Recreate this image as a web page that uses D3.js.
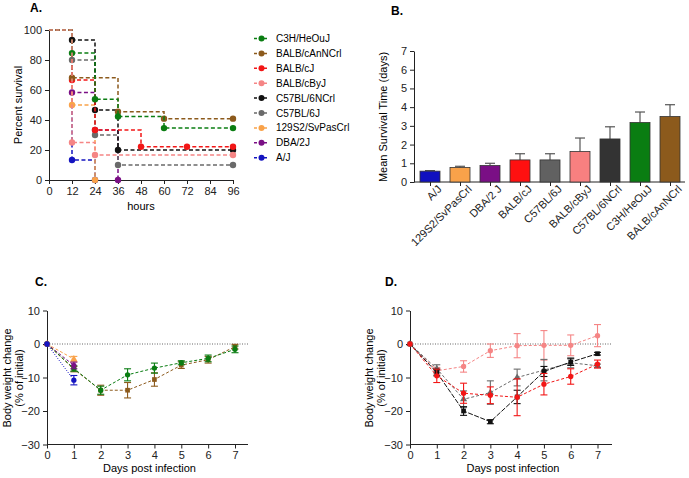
<!DOCTYPE html>
<html>
<head>
<meta charset="utf-8">
<script src="https://cdn.jsdelivr.net/npm/d3@7"></script>
<style>
  body { margin: 0; background: #fff; }
  svg { font-family: "Liberation Sans", Arial, sans-serif; }
  .axis text { font-size: 11px; fill: #222; }
  .axis path, .axis line { stroke: #222; }
</style>
</head>
<body>
<div id="fig"></div>
<script>
// strains, in legend order
var strains = ['C3H/HeOuJ', 'BALB/cAnNCrl', 'BALB/cJ', 'BALB/cByJ', 'C57BL/6NCrl', 'C57BL/6J', '129S2/SvPasCrl', 'DBA/2J', 'A/J'];
var strainColors = ['#0a7d12', '#8c5a1c', '#f21616', '#f58585', '#111111', '#6a6a6a', '#f9a24a', '#7a0f85', '#1414c0'];

// panel A: Kaplan-Meier steps (hours, percent)
var survTimes = [
  [0, 12, 24, 36, 60, 96],
  [0, 12, 36, 60, 96],
  [0, 12, 24, 48, 72, 96],
  [0, 12, 24, 96],
  [0, 12, 24, 36, 96],
  [0, 12, 24, 36, 96],
  [0, 12, 24],
  [0, 12, 24, 36],
  [0, 12, 24]
];
var survPct = [
  [100, 84.6, 53.8, 42.3, 34.6, 34.6],
  [100, 68.2, 45.5, 40.9, 40.9],
  [100, 66.7, 33.3, 22.2, 22.2, 22.2],
  [100, 25, 16.7, 16.7],
  [100, 93.3, 46.7, 20, 20],
  [100, 80, 30, 10, 10],
  [100, 50, 0],
  [100, 58.3, 33.3, 0],
  [100, 13.3, 0]
];
var hourTicks = [0, 12, 24, 36, 48, 60, 72, 84, 96];

// panel B: mean survival time
var mstStrains = ['A/J', '129S2/SvPasCrl', 'DBA/2 J', 'BALB/cJ', 'C57BL/6J', 'BALB/cByJ', 'C57BL/6NCrl', 'C3H/HeOuJ', 'BALB/cAnNCrl'];
var mstColors = ['#1010c0', '#f9a24a', '#7a0f85', '#ff1010', '#616161', '#f88080', '#333333', '#0a7d12', '#8c5a1c'];
var mstMean = [0.58, 0.78, 0.88, 1.18, 1.18, 1.63, 2.30, 3.18, 3.50];
var mstErr = [0.03, 0.06, 0.12, 0.33, 0.33, 0.72, 0.65, 0.56, 0.63];

// panel C/D: body weight change
var days = [0, 1, 2, 3, 4, 5, 6, 7];
var weightC = [
  {name: 'BALB/cAnNCrl', color: '#8c5a1c', mean: [0, -7.5, -13.8, -13.8, -10.6, -6.3, -4.7, -0.8], err: [0, 0.8, 1.5, 2.3, 2.0, 1.0, 1.0, 0.7], dash: '3,2', shape: 'square'},
  {name: 'C3H/HeOuJ', color: '#0a7d12', mean: [0, -7.3, -13.8, -9.2, -7.2, -5.6, -4.3, -1.6], err: [0, 0.8, 1.2, 1.8, 1.5, 0.6, 1.0, 1.0], dash: '3,2', shape: 'circle'},
  {name: '129S2/SvPasCrl', color: '#f9a24a', mean: [0, -4.5], err: [0, 0.8], dash: '3,2', shape: 'triangle'},
  {name: 'DBA/2J', color: '#7a0f85', mean: [0, -6.4], err: [0, 1.0], dash: '3,2', shape: 'circle'},
  {name: 'A/J', color: '#1414c0', mean: [0, -10.8], err: [0, 1.4], dash: '1,1.5', shape: 'circle'}
];
var weightD = [
  {name: 'BALB/cByJ', color: '#f58585', mean: [0, -8.0, -6.7, -2.0, -0.5, -0.4, -0.4, 2.5], err: [0, 1.0, 1.7, 2.0, 3.6, 4.4, 3.1, 3.3], dash: '3,2', shape: 'circle'},
  {name: 'C57BL/6J', color: '#6a6a6a', mean: [0, -7.4, -16.5, -14.5, -10.0, -7.8, -5.6, -6.5], err: [0, 1.2, 2.5, 3.5, 2.5, 3.2, 1.5, 0.5], dash: '3,2', shape: 'triangle'},
  {name: 'C57BL/6NCrl', color: '#111111', mean: [0, -8.5, -20.0, -23.2, -15.8, -8.2, -5.4, -2.9], err: [0, 1.0, 1.3, 0.6, 2.0, 1.5, 1.0, 0.4], dash: '5,1.5', shape: 'square'},
  {name: 'BALB/cJ', color: '#f21616', mean: [0, -9.5, -14.7, -15.3, -15.9, -12.0, -9.7, -6.0], err: [0, 2.0, 3.0, 2.5, 5.5, 3.2, 2.3, 1.2], dash: '3,2', shape: 'circle'}
];

var svg = d3.select('#fig').append('svg').attr('width', 689).attr('height', 478);

function panelLetter(t, x, y){
  svg.append('text').attr('x', x).attr('y', y).text(t)
    .style('font-weight', 'bold').style('font-size', '12px');
}

// ---------- panel A ----------
panelLetter('A.', 30, 12);
var ax = d3.scaleLinear().domain([0, 96]).range([49, 233]);
var ay = d3.scaleLinear().domain([0, 100]).range([180, 30]);

svg.append('g').attr('class', 'axis').attr('transform', 'translate(0,180)')
  .call(d3.axisBottom(ax).tickValues(hourTicks).tickSize(4).tickSizeOuter(0));
svg.append('g').attr('class', 'axis').attr('transform', 'translate(49,0)')
  .call(d3.axisLeft(ay).tickValues([0, 20, 40, 60, 80, 100]).tickSize(4).tickSizeOuter(0));
svg.append('text').attr('x', 141).attr('y', 210).attr('text-anchor', 'middle')
  .style('font-size', '11px').text('hours');
svg.append('text').attr('transform', 'translate(22,105) rotate(-90)').attr('text-anchor', 'middle')
  .style('font-size', '11px').text('Percent survival');

var step = d3.line().curve(d3.curveStepAfter).x(function(d){return ax(d[0]);}).y(function(d){return ay(d[1]);});
// pink last so its 100% line sits on top
var drawOrder = [8, 7, 6, 5, 4, 2, 1, 0, 3];
drawOrder.forEach(function(i){
  var pts = survTimes[i].map(function(t, j){return [t, survPct[i][j]];});
  svg.append('path').attr('d', step(pts)).attr('fill', 'none')
    .attr('stroke', strainColors[i]).attr('stroke-width', 1.5).attr('stroke-dasharray', '4,2.5');
  svg.selectAll(null).data(pts.slice(1)).enter().append('circle')
    .attr('cx', function(d){return ax(d[0]);}).attr('cy', function(d){return ay(d[1]);})
    .attr('r', 3.2).attr('fill', strainColors[i]);
});

// legend
var leg = svg.append('g');
strains.forEach(function(s, i){
  var y = 38.5 + i * 14.9;
  leg.append('line').attr('x1', 254).attr('x2', 268).attr('y1', y).attr('y2', y)
    .attr('stroke', strainColors[i]).attr('stroke-width', 1.5).attr('stroke-dasharray', '3,2');
  leg.append('circle').attr('cx', 261.5).attr('cy', y).attr('r', 3).attr('fill', strainColors[i]);
  leg.append('text').attr('x', 276).attr('y', y + 3.5).style('font-size', '10px').text(s);
});

// ---------- panel B ----------
panelLetter('B.', 391, 15);
var bx = d3.scalePoint().domain(mstStrains).range([415, 685]).padding(0.5);
var by = d3.scaleLinear().domain([0, 7]).range([182, 51]);
svg.append('g').attr('class', 'axis').attr('transform', 'translate(414,0)')
  .call(d3.axisLeft(by).ticks(7).tickSize(4).tickSizeOuter(0));
var bxAxis = svg.append('g').attr('class', 'axis').attr('transform', 'translate(0,182)')
  .call(d3.axisBottom(bx).tickSize(4).tickSizeOuter(0));
bxAxis.select('.domain').attr('d', 'M414,0H685');
bxAxis.selectAll('text').attr('text-anchor', 'end').attr('dx', '3').attr('dy', '7')
  .attr('transform', 'rotate(-45)').style('font-size', '11px');
svg.append('text').attr('transform', 'translate(387,117) rotate(-90)').attr('text-anchor', 'middle')
  .style('font-size', '11px').text('Mean Survival Time (days)');

mstStrains.forEach(function(s, i){
  var cx = bx(s);
  svg.append('line').attr('x1', cx).attr('x2', cx).attr('y1', by(mstMean[i])).attr('y2', by(mstMean[i] + mstErr[i]))
    .attr('stroke', '#555').attr('stroke-width', 1.2);
  svg.append('line').attr('x1', cx - 5).attr('x2', cx + 5).attr('y1', by(mstMean[i] + mstErr[i])).attr('y2', by(mstMean[i] + mstErr[i]))
    .attr('stroke', '#555').attr('stroke-width', 1.2);
  svg.append('rect').attr('x', cx - 10).attr('width', 20)
    .attr('y', by(mstMean[i])).attr('height', by(0) - by(mstMean[i]))
    .attr('fill', mstColors[i]).attr('stroke', '#333').attr('stroke-width', 0.8);
});

// ---------- panels C and D ----------
function weightPanel(series, x0, x1, xEnd, labX, letter, letterX){
  var x = d3.scaleLinear().domain([0, 7]).range([x0, x1]);
  var y = d3.scaleLinear().domain([-30, 10]).range([444.5, 310.5]);
  svg.append('line').attr('x1', x0).attr('x2', xEnd).attr('y1', y(0)).attr('y2', y(0))
    .attr('stroke', '#666').attr('stroke-width', 1).attr('stroke-dasharray', '1,1.5');
  var xa = svg.append('g').attr('class', 'axis').attr('transform', 'translate(0,' + y(-30) + ')')
    .call(d3.axisBottom(x).tickValues(days).tickFormat(d3.format('d')).tickSize(4).tickSizeOuter(0));
  xa.select('.domain').attr('d', 'M' + x0 + ',0H' + xEnd);
  svg.append('g').attr('class', 'axis').attr('transform', 'translate(' + x0 + ',0)')
    .call(d3.axisLeft(y).tickValues([-30, -20, -10, 0, 10]).tickSize(4).tickSizeOuter(0));
  svg.append('text').attr('x', (x0 + xEnd) / 2 + 2).attr('y', 472).attr('text-anchor', 'middle')
    .style('font-size', '11px').text('Days post infection');
  var yl = svg.append('text').attr('transform', 'translate(' + labX + ',378) rotate(-90)')
    .attr('text-anchor', 'middle').style('font-size', '11px');
  yl.append('tspan').attr('x', 0).attr('dy', 0).text('Body weight change');
  yl.append('tspan').attr('x', 0).attr('dy', 12).text('(% of initial)');
  panelLetter(letter, letterX, 286);

  var line = d3.line().x(function(d, i){return x(days[i]);}).y(function(d){return y(d);});
  series.forEach(function(s){
    svg.append('path').attr('d', line(s.mean)).attr('fill', 'none')
      .attr('stroke', s.color).attr('stroke-width', 1).attr('stroke-dasharray', s.dash);
    s.mean.forEach(function(m, i){
      if (i === 0) return;
      var cx = x(days[i]);
      var lo = y(m - s.err[i]), hi = y(m + s.err[i]);
      svg.append('line').attr('x1', cx).attr('x2', cx).attr('y1', lo).attr('y2', hi)
        .attr('stroke', s.color).attr('stroke-width', 1.1);
      [lo, hi].forEach(function(yy){
        svg.append('line').attr('x1', cx - 3.5).attr('x2', cx + 3.5).attr('y1', yy).attr('y2', yy)
          .attr('stroke', s.color).attr('stroke-width', 1.1);
      });
    });
    var sym = s.shape === 'square' ? d3.symbolSquare : (s.shape === 'triangle' ? d3.symbolTriangle : d3.symbolCircle);
    svg.selectAll(null).data(s.mean).enter().append('path')
      .attr('d', d3.symbol().type(sym).size(22))
      .attr('transform', function(d, i){return 'translate(' + x(days[i]) + ',' + y(d) + ')';})
      .attr('fill', s.color);
  });
}

weightPanel(weightC, 47, 235, 248, 11, 'C.', 35);
weightPanel(weightD, 410, 597.5, 612, 373, 'D.', 385);
</script>
</body>
</html>
